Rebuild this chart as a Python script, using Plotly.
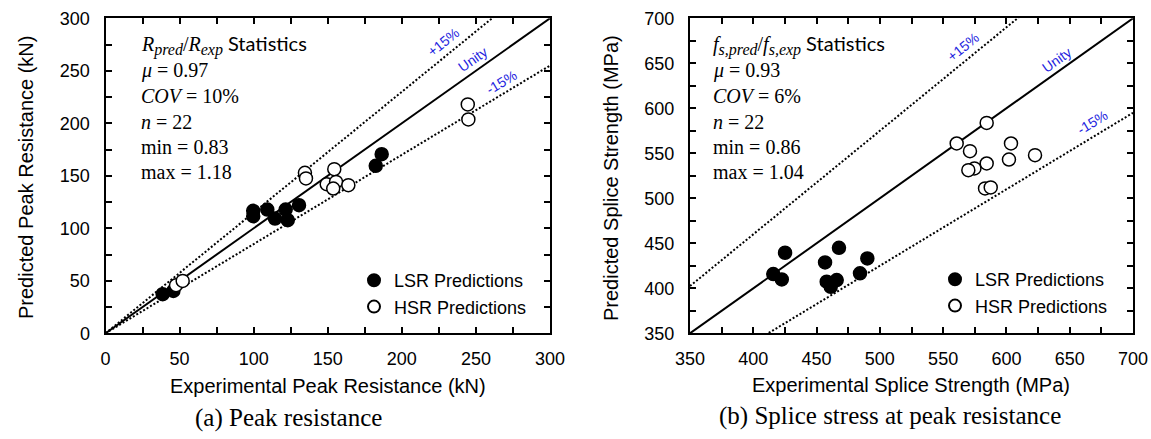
import plotly.graph_objects as go

# ---- data -------------------------------------------------------------
# (a) peak resistance, kN
lsr_peak_exp = [38.6, 45.8, 99.7, 99.7, 109.2, 114.4, 121.6, 123.0, 130.6, 182.4, 186.4]
lsr_peak_pred = [37.2, 40.3, 116.6, 111.5, 117.9, 109.3, 117.9, 107.7, 122.0, 159.5, 170.6]
hsr_peak_exp = [47.6, 52.1, 134.6, 135.3, 154.4, 149.3, 155.6, 153.7, 163.9, 244.5, 244.9]
hsr_peak_pred = [45.8, 49.9, 152.8, 147.5, 156.3, 142.0, 144.2, 137.9, 141.1, 218.0, 203.7]

# (b) splice stress at peak resistance, MPa
lsr_fs_exp = [425.1, 415.8, 422.5, 456.7, 467.7, 490.1, 484.3, 458.0, 465.9, 461.2]
lsr_fs_pred = [439.5, 415.8, 409.9, 428.8, 445.0, 433.2, 416.6, 407.3, 409.2, 401.7]
hsr_fs_exp = [584.4, 560.7, 571.2, 603.6, 602.0, 622.6, 584.4, 574.7, 569.9, 583.1, 587.6]
hsr_fs_pred = [583.8, 560.9, 552.4, 560.9, 543.1, 547.9, 538.7, 533.2, 531.3, 511.0, 512.1]

peak_range = [0, 300]
fs_range = [350, 700]
major_step = 50
minor_step = 25

# reference lines: ratio of predicted to experimental
ratio_unity = 1.0
ratio_upper = 1.15
ratio_lower = 0.85


def sub(s):
    # italic subscript kept close to the body size, as in equation text
    return f'<sub><span style="font-size:16px"><i>{s}</i></span></sub>'


peak_stats = [f"<i>R</i>{sub('pred')}/<i>R</i>{sub('exp')}",
              "<i>μ</i> = 0.97", "<i>COV</i> = 10%", "<i>n</i> = 22",
              "min = 0.83", "max = 1.18"]
fs_stats = [f"<i>f</i>{sub('s,pred')}/<i>f</i>{sub('s,exp')}",
            "<i>μ</i> = 0.93", "<i>COV</i> = 6%", "<i>n</i> = 22",
            "min = 0.86", "max = 1.04"]

# ---- layout helpers ---------------------------------------------------
W, H = 1151, 439
SANS = "Liberation Sans, Arial, sans-serif"
SERIF = "Liberation Serif, Times New Roman, serif"
CAL = "Lato, Carlito, sans-serif"
BLUE = "#1f1fe0"


def px(x):
    return x / W


def py(y):
    return 1 - y / H


fig = go.Figure()


def add_panel(xa, ya, rng, exp_lsr, pred_lsr, exp_hsr, pred_hsr, legend):
    for r, dash in [(ratio_upper, "2px,2px"), (ratio_lower, "2px,2px"), (ratio_unity, "solid")]:
        fig.add_trace(go.Scatter(
            x=rng, y=[r * v for v in rng], mode="lines", xaxis=xa, yaxis=ya,
            line=dict(color="black", width=2, dash=dash),
            showlegend=False, hoverinfo="skip"))
    fig.add_trace(go.Scatter(
        x=exp_lsr, y=pred_lsr, mode="markers", name="LSR Predictions",
        xaxis=xa, yaxis=ya, legend=legend,
        marker=dict(symbol="circle", size=13, color="black",
                    line=dict(color="black", width=1.5))))
    fig.add_trace(go.Scatter(
        x=exp_hsr, y=pred_hsr, mode="markers", name="HSR Predictions",
        xaxis=xa, yaxis=ya, legend=legend,
        marker=dict(symbol="circle", size=13, color="white",
                    line=dict(color="black", width=1.5))))


add_panel("x", "y", peak_range, lsr_peak_exp, lsr_peak_pred,
          hsr_peak_exp, hsr_peak_pred, "legend")
add_panel("x2", "y2", fs_range, lsr_fs_exp, lsr_fs_pred,
          hsr_fs_exp, hsr_fs_pred, "legend2")


def axis(domain, rng, anchor, standoff):
    return dict(
        domain=domain, range=rng, anchor=anchor, automargin=False,
        tick0=rng[0], dtick=major_step,
        ticks="inside", ticklen=6, tickwidth=2, tickcolor="black",
        minor=dict(tick0=rng[0], dtick=minor_step, ticks="inside", ticklen=6,
                   tickwidth=2, tickcolor="black", showgrid=False),
        showline=True, linewidth=2, linecolor="black", mirror="ticks",
        showgrid=False, zeroline=False, ticklabelstandoff=standoff,
        tickfont=dict(family=SANS, size=18, color="black"),
    )


ydom = [py(333.3), py(18.3)]
fig.update_layout(
    width=W, height=H,
    margin=dict(l=0, r=0, t=0, b=0, autoexpand=False),
    paper_bgcolor="white", plot_bgcolor="white",
    xaxis=axis([px(105.5), px(550)], peak_range, "y", 8),
    yaxis=axis(ydom, peak_range, "x", 10),
    xaxis2=axis([px(690), px(1133)], fs_range, "y2", 8),
    yaxis2=axis(ydom, fs_range, "x2", 10),
    legend=dict(x=px(354), y=py(262), xanchor="left", yanchor="top",
                bgcolor="rgba(0,0,0,0)", font=dict(family=SANS, size=18, color="black"),
                itemsizing="constant"),
    legend2=dict(x=px(935), y=py(261), xanchor="left", yanchor="top",
                 bgcolor="rgba(0,0,0,0)", font=dict(family=SANS, size=18, color="black"),
                 itemsizing="constant"),
)

ann = []


def text(x, y, s, size, family, color="black", angle=0, xanchor="center", yanchor="middle",
         xref="paper", yref="paper"):
    ann.append(dict(x=x, y=y, xref=xref, yref=yref, text=s, showarrow=False,
                    font=dict(family=family, size=size, color=color),
                    textangle=angle, xanchor=xanchor, yanchor=yanchor))


# axis titles
text(px(328), py(386), "Experimental Peak Resistance (kN)", 20, SANS)
text(px(911), py(385), "Experimental Splice Strength (MPa)", 20, SANS)
text(px(26), py(178), "Predicted Peak Resistance (kN)", 20, SANS, angle=-90)
text(px(611), py(178), "Predicted Splice Strength (MPa)", 20, SANS, angle=-90)

# panel captions
text(px(288), py(418), "(a) Peak resistance", 25, SERIF)
text(px(890), py(416), "(b) Splice stress at peak resistance", 25, SERIF)

# statistics blocks
line_y = [45, 70.5, 96, 121.5, 147, 172]
for i, s in enumerate(peak_stats):
    if i == 0:
        s = s + f' <span style="font-family:{CAL}">Statistics</span>'
    text(px(139), py(line_y[i]), s, 20, SERIF, xanchor="left")
for i, s in enumerate(fs_stats):
    if i == 0:
        s = s + f' <span style="font-family:{CAL}">Statistics</span>'
    text(px(711), py(line_y[i]), s, 20, SERIF, xanchor="left")

# reference line labels
text(228, 277.7, "+15%", 14, SANS, BLUE, -39, xref="x", yref="y")
text(248.2, 260.9, "Unity", 14, SANS, BLUE, -35, xref="x", yref="y")
text(267.4, 239.6, "-15%", 14, SANS, BLUE, -31, xref="x", yref="y")
text(565.7, 668.1, "+15%", 14, SANS, BLUE, -39, xref="x2", yref="y2")
text(639.7, 653.4, "Unity", 14, SANS, BLUE, -35, xref="x2", yref="y2")
text(668.2, 584.9, "-15%", 14, SANS, BLUE, -31, xref="x2", yref="y2")

fig.update_layout(annotations=ann)
fig.write_html("out.html")
